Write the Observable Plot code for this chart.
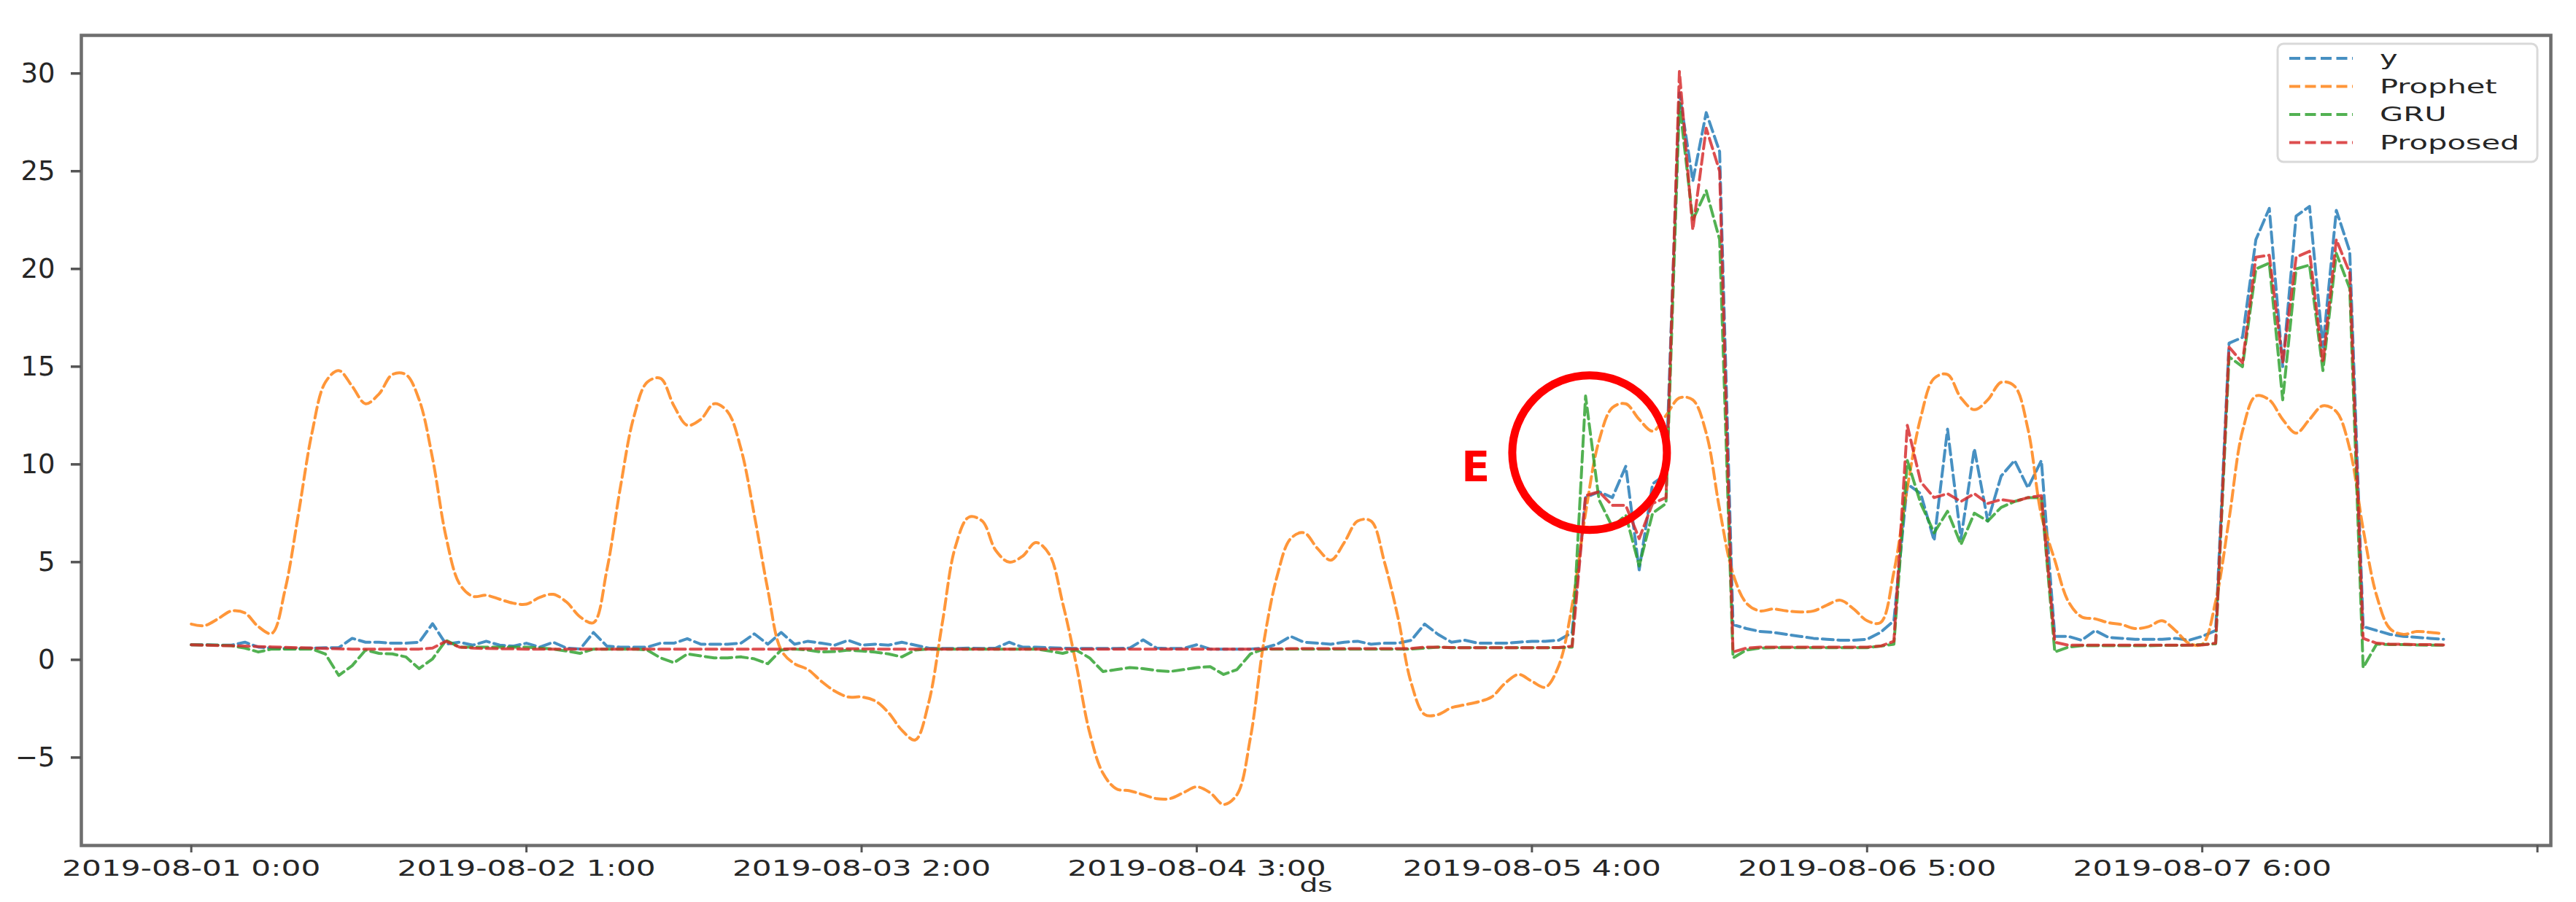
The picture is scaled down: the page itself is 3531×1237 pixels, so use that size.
<!DOCTYPE html>
<html><head><meta charset="utf-8">
<script src="https://cdn.jsdelivr.net/npm/d3@7"></script>
<script src="https://cdn.jsdelivr.net/npm/@observablehq/plot@0.6"></script>
<style>
html,body{margin:0;padding:0;background:#fff;}
#chart{position:relative;width:3531px;height:1237px;}
</style></head><body><div id="chart"></div>
<script>
// ---- data (hourly index 0..168) ----
const seriesNames = ["y", "Prophet", "GRU", "Proposed"];
const seriesColors = ["#1f77b4", "#ff7f0e", "#2ca02c", "#d62728"];
const xTickPositions = [0, 25, 50, 75, 100, 125, 150, 175];
const xTickLabels = ["2019-08-01 0:00", "2019-08-02 1:00", "2019-08-03 2:00", "2019-08-04 3:00",
  "2019-08-05 4:00", "2019-08-06 5:00", "2019-08-07 6:00", ""];
const yTicks = [-5, 0, 5, 10, 15, 20, 25, 30];
const xLabel = "ds";

const yValues = [
  0.77, 0.77, 0.75, 0.75, 0.9, 0.65, 0.6, 0.58, 0.58, 0.6,
  0.62, 0.62, 1.1, 0.9, 0.9, 0.85, 0.85, 0.9, 1.85, 0.8,
  0.9, 0.75, 0.95, 0.75, 0.7, 0.85, 0.65, 0.9, 0.6, 0.55,
  1.4, 0.7, 0.65, 0.65, 0.65, 0.85, 0.85, 1.08, 0.8, 0.8,
  0.8, 0.85, 1.33, 0.8, 1.4, 0.8, 0.95, 0.85, 0.75, 1.0,
  0.75, 0.8, 0.75, 0.9, 0.75, 0.6, 0.58, 0.58, 0.6, 0.58,
  0.6, 0.9, 0.65, 0.65, 0.62, 0.6, 0.58, 0.58, 0.58, 0.58,
  0.6, 1.02, 0.6, 0.58, 0.58, 0.77, 0.55, 0.55, 0.55, 0.55,
  0.6, 0.8, 1.2, 0.9, 0.85, 0.8, 0.9, 0.95, 0.8, 0.85,
  0.85, 1.0, 1.83, 1.3, 0.9, 1.0, 0.85, 0.85, 0.85, 0.9,
  0.95, 0.95, 1.0, 1.4, 8.3, 8.6, 8.3, 9.9, 4.6, 9.0,
  9.5, 29.0, 24.5, 28.0, 26.0, 1.8, 1.6, 1.45, 1.4, 1.3,
  1.2, 1.1, 1.05, 1.0, 1.0, 1.05, 1.4, 2.0, 9.0, 8.5,
  6.1, 11.8, 6.2, 10.8, 7.1, 9.4, 10.2, 8.8, 10.2, 1.2,
  1.2, 1.0, 1.5, 1.15, 1.1, 1.05, 1.05, 1.05, 1.1, 1.0,
  1.2, 1.5, 16.2, 16.5, 21.5, 23.1, 15.0, 22.7, 23.2, 16.0,
  23.0, 20.9, 1.7, 1.5, 1.3, 1.2, 1.15, 1.1, 1.05
];
const prophetValues = [
  1.83, 1.75, 2.1, 2.5, 2.4, 1.7, 1.35, 3.6, 7.5, 11.6,
  14.2, 14.8, 14.0, 13.1, 13.6, 14.6, 14.6, 13.3, 10.3, 6.3,
  3.9, 3.25, 3.3, 3.1, 2.9, 2.85, 3.2, 3.35, 2.95, 2.2,
  1.9, 4.6, 8.8, 12.4, 14.2, 14.4, 13.0, 12.0, 12.3, 13.1,
  12.7, 10.8, 7.4, 3.6, 0.5, -0.2, -0.5, -1.1, -1.6, -1.9,
  -1.9, -2.1, -2.7, -3.6, -4.1, -2.2, 1.8, 5.8, 7.3, 7.1,
  5.6, 5.0, 5.3, 6.0, 5.4, 2.9, -0.2, -3.7, -5.8, -6.6,
  -6.7, -6.9, -7.1, -7.1, -6.8, -6.5, -6.8, -7.4, -6.9, -4.0,
  0.9, 4.3, 6.2, 6.5, 5.7, 5.1, 6.0, 7.1, 7.1, 5.0,
  2.2, -1.2, -2.8, -2.8, -2.45, -2.3, -2.15, -1.9, -1.2, -0.75,
  -1.1, -1.4, -0.3, 2.8, 7.5, 11.2, 12.9, 13.1, 12.3, 11.7,
  12.5, 13.4, 13.3, 11.6, 7.7, 4.4, 2.9, 2.5, 2.6, 2.5,
  2.45, 2.5, 2.8, 3.05, 2.6, 2.0, 1.9, 4.5, 8.8, 12.4,
  14.4, 14.6, 13.4, 12.8, 13.3, 14.2, 14.0, 11.8, 7.4, 5.1,
  3.0, 2.2, 2.1, 1.9, 1.8, 1.6, 1.7, 2.0, 1.5, 0.85,
  0.8, 3.0, 7.2, 11.7, 13.5, 13.3, 12.3, 11.6, 12.3, 13.0,
  12.7, 10.8, 6.7, 3.3, 1.6, 1.3, 1.45, 1.4, 1.33
];
const gruValues = [
  0.77, 0.76, 0.75, 0.72, 0.6, 0.4, 0.55, 0.55, 0.55, 0.55,
  0.3, -0.8, -0.3, 0.5, 0.33, 0.3, 0.15, -0.45, 0.05, 1.0,
  0.65, 0.65, 0.65, 0.65, 0.65, 0.65, 0.6, 0.55, 0.45, 0.33,
  0.55, 0.55, 0.55, 0.55, 0.5, 0.1, -0.15, 0.3, 0.2, 0.1,
  0.1, 0.15, 0.05, -0.2, 0.5, 0.55, 0.5, 0.4, 0.42, 0.5,
  0.45, 0.4, 0.3, 0.15, 0.5, 0.55, 0.55, 0.55, 0.55, 0.55,
  0.55, 0.55, 0.55, 0.55, 0.45, 0.33, 0.5, 0.1, -0.6, -0.5,
  -0.4, -0.45, -0.55, -0.6, -0.5, -0.4, -0.35, -0.75, -0.5, 0.3,
  0.55, 0.55, 0.55, 0.55, 0.55, 0.55, 0.55, 0.55, 0.55, 0.55,
  0.55, 0.55, 0.6, 0.65, 0.62, 0.62, 0.62, 0.62, 0.62, 0.62,
  0.62, 0.62, 0.62, 0.65, 13.5, 8.2, 6.8, 7.4, 4.8, 7.5,
  8.0, 28.5, 22.5, 24.0, 21.5, 0.1, 0.5, 0.6, 0.62, 0.62,
  0.62, 0.62, 0.62, 0.62, 0.62, 0.62, 0.7, 0.8, 10.2, 8.0,
  6.5, 7.6, 5.9, 7.5, 7.1, 7.8, 8.1, 8.3, 8.3, 0.4,
  0.65, 0.72, 0.72, 0.72, 0.72, 0.72, 0.72, 0.74, 0.74, 0.75,
  0.78, 0.82, 15.5, 15.0, 20.0, 20.3, 13.3, 20.0, 20.2, 14.8,
  20.8, 19.0, -0.4, 0.8, 0.78, 0.78, 0.76, 0.75, 0.75
];
const proposedValues = [
  0.77, 0.75, 0.73, 0.72, 0.7, 0.68, 0.66, 0.64, 0.62, 0.6,
  0.58, 0.56, 0.55, 0.55, 0.55, 0.55, 0.55, 0.55, 0.6, 0.95,
  0.65, 0.6, 0.58, 0.57, 0.56, 0.55, 0.55, 0.55, 0.55, 0.55,
  0.55, 0.55, 0.55, 0.55, 0.55, 0.55, 0.55, 0.55, 0.55, 0.55,
  0.55, 0.55, 0.55, 0.55, 0.55, 0.56, 0.56, 0.56, 0.56, 0.56,
  0.56, 0.55, 0.55, 0.55, 0.55, 0.55, 0.55, 0.55, 0.55, 0.55,
  0.55, 0.55, 0.55, 0.55, 0.55, 0.55, 0.55, 0.55, 0.55, 0.55,
  0.55, 0.55, 0.55, 0.55, 0.55, 0.55, 0.55, 0.55, 0.55, 0.55,
  0.55, 0.56, 0.57, 0.57, 0.57, 0.57, 0.57, 0.57, 0.57, 0.57,
  0.57, 0.58, 0.65, 0.65, 0.63, 0.62, 0.62, 0.62, 0.62, 0.62,
  0.62, 0.62, 0.63, 0.7, 8.4, 8.6, 7.9, 7.9, 6.2, 8.0,
  8.3, 30.1, 22.0, 27.2, 25.0, 0.4, 0.6, 0.65, 0.65, 0.65,
  0.65, 0.65, 0.65, 0.65, 0.65, 0.65, 0.7, 0.95, 12.0, 9.1,
  8.3, 8.5, 8.1, 8.5, 8.0, 8.2, 8.1, 8.3, 8.4, 0.9,
  0.75, 0.75, 0.75, 0.75, 0.75, 0.75, 0.75, 0.75, 0.75, 0.75,
  0.76, 0.85, 16.0, 15.2, 20.6, 20.7, 15.2, 20.6, 20.9, 15.2,
  21.5, 19.8, 1.1, 0.85, 0.8, 0.8, 0.78, 0.78, 0.76
];
// annotation "E" with a circle (in data coordinates)
const annotationCircle = [{h: 104.3, v: 10.6}];
const annotationLabel = [{h: 95.8, v: 9.8, text: "E"}];

// ---- build ----
const seriesData = [yValues, prophetValues, gruValues, proposedValues];
const seriesCurves = ["linear", "catmull-rom", "linear", "linear"];
const rows = [];
seriesNames.forEach((name, i) => seriesData[i].forEach((v, h) => rows.push({h, v, series: name})));

const DASH = "15,6.5";
const LW = 4;
const lineMarks = seriesNames.map((name, i) =>
  Plot.line(rows.filter(r => r.series === name), {
    x: "h", y: "v", stroke: seriesColors[i], strokeWidth: LW, curve: seriesCurves[i],
    strokeDasharray: DASH, strokeOpacity: 0.82
  })
);

const plot = Plot.plot({
  width: 3531, height: 1237,
  marginLeft: 111, marginRight: 35, marginTop: 48, marginBottom: 78,
  style: {fontFamily: "DejaVu Sans", background: "#fff", color: "#262626", overflow: "visible"},
  x: {domain: [-8.2, 176.0]},
  y: {domain: [-9.5, 31.95]},
  marks: [
    ...lineMarks,
    Plot.dot(annotationCircle, {x: "h", y: "v", r: 106, stroke: "#ff0000", strokeWidth: 11, fill: "none"}),
    Plot.text(annotationLabel, {x: "h", y: "v", text: "text", fill: "#ff0000", fontSize: 57, fontWeight: "bold"}),
    Plot.frame({stroke: "#6e6e6e", strokeWidth: 4.5}),
    Plot.axisX({ticks: xTickPositions, tickFormat: d => xTickLabels[xTickPositions.indexOf(d)],
      tickSize: 10, tickPadding: 10, fontSize: 30, label: null, stroke: "#555", strokeWidth: 3, fill: "#262626"}),
    Plot.axisY({ticks: yTicks, tickSize: 14, tickPadding: 22, fontSize: 37, label: null,
      stroke: "#555", strokeWidth: 3.5, fill: "#262626"}),
    Plot.text([xLabel], {frameAnchor: "bottom", dy: 63, fontSize: 27, fill: "#262626"})
  ]
});
document.getElementById("chart").appendChild(plot);

const svg = d3.select(plot);
// horizontally stretched tick labels as in the reference
svg.selectAll('g[aria-label="x-axis tick label"] text').each(function () {
  if (!this.textContent) return;
  const w = this.getComputedTextLength();
  d3.select(this).attr("textLength", w * 1.41).attr("lengthAdjust", "spacingAndGlyphs");
});
svg.selectAll('g[aria-label="text"] text').each(function () {
  if (this.textContent === xLabel) {
    const w = this.getComputedTextLength();
    d3.select(this).attr("textLength", w * 1.45).attr("lengthAdjust", "spacingAndGlyphs");
  }
});

// legend (upper right, inside the axes)
const lg = svg.append("g").attr("aria-label", "legend").attr("font-family", "DejaVu Sans")
  .attr("text-anchor", "start");
lg.append("rect").attr("x", 3122).attr("y", 60).attr("width", 356).attr("height", 162).attr("rx", 8)
  .attr("fill", "#fff").attr("fill-opacity", 0.85).attr("stroke", "#d9d9d9").attr("stroke-width", 3);
seriesNames.forEach((name, i) => {
  const yy = 80 + i * 38.5;
  lg.append("line").attr("x1", 3138).attr("x2", 3225).attr("y1", yy).attr("y2", yy)
    .attr("stroke", seriesColors[i]).attr("stroke-width", LW).attr("stroke-opacity", 0.82)
    .attr("stroke-dasharray", DASH);
  const t = lg.append("text").attr("x", 3262).attr("y", yy).attr("dy", "0.36em")
    .attr("text-anchor", "start").attr("font-size", 26).attr("fill", "#262626").text(name);
  const w = t.node().getComputedTextLength();
  t.attr("textLength", w * 1.6).attr("lengthAdjust", "spacingAndGlyphs");
});
</script>
</body></html>
